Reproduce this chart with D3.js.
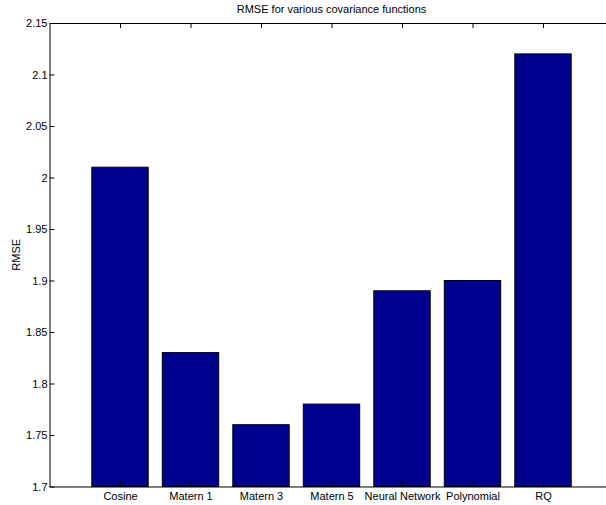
<!DOCTYPE html>
<html>
<head>
<meta charset="utf-8">
<script src="https://cdn.jsdelivr.net/npm/d3@7"></script>
<style>
  html, body { margin: 0; padding: 0; background: #fff; }
  svg { display: block; font-family: "Liberation Sans", Arial, Helvetica, sans-serif; }
</style>
</head>
<body>
<svg id="chart" width="606" height="505"></svg>
<script>
// RMSE per covariance function
const categories = ["Cosine", "Matern 1", "Matern 3", "Matern 5", "Neural Network", "Polynomial", "RQ"];
const rmse = [2.01, 1.83, 1.76, 1.78, 1.89, 1.90, 2.12];
const yTicks = [1.7, 1.75, 1.8, 1.85, 1.9, 1.95, 2, 2.05, 2.1, 2.15];
const titleText = "RMSE for various covariance functions";
const yLabel = "RMSE";

const svg = d3.select("#chart");
const plotLeft = 49.5, plotRight = 613.5, plotTop = 23, plotBottom = 486.5;

// bar positions 1..n inside an axis running from 0 to n+1
const x = d3.scaleLinear().domain([0, categories.length + 1]).range([plotLeft, plotRight]);
const y = d3.scaleLinear().domain([1.7, 2.15]).range([plotBottom, plotTop]);
const step = x(1) - x(0);
const barW = step * 0.8;

const fmt = d => String(+d.toFixed(2));

// bars
svg.append("g")
  .selectAll("rect")
  .data(rmse)
  .join("rect")
  .attr("x", (d, i) => x(i + 1) - barW / 2)
  .attr("y", d => y(d))
  .attr("width", barW)
  .attr("height", d => y(1.7) - y(d))
  .attr("fill", "#00008f")
  .attr("stroke", "#000")
  .attr("stroke-width", 1);

// left axis, ticks pointing inward
const yAxis = svg.append("g")
  .attr("transform", `translate(${plotLeft},0)`)
  .call(d3.axisLeft(y).tickValues(yTicks).tickFormat(fmt).tickSizeInner(-5).tickSizeOuter(0).tickPadding(2));

// bottom axis with category names
const xAxis = svg.append("g")
  .attr("transform", `translate(0,${plotBottom})`)
  .call(d3.axisBottom(x).tickValues(d3.range(1, categories.length + 1))
    .tickFormat(d => categories[d - 1]).tickSizeInner(-5).tickSizeOuter(0).tickPadding(6));

// top axis: ticks only
const topAxis = svg.append("g")
  .attr("transform", `translate(0,${plotTop})`)
  .call(d3.axisTop(x).tickValues(d3.range(1, categories.length + 1))
    .tickFormat("").tickSizeInner(-5).tickSizeOuter(0));

[yAxis, xAxis, topAxis].forEach(g => {
  g.select(".domain").attr("stroke", "#000").attr("stroke-width", 1);
  g.selectAll(".tick line").attr("stroke", "#000");
  g.selectAll("text").attr("font-size", 11).attr("fill", "#000")
    .attr("font-family", "'Liberation Sans', Arial, sans-serif");
});

// title
svg.append("text")
  .attr("x", (plotLeft + plotRight) / 2)
  .attr("y", 13)
  .attr("text-anchor", "middle")
  .attr("font-size", 11)
  .text(titleText);

// y label
svg.append("text")
  .attr("transform", `translate(19.5,${(plotTop + plotBottom) / 2}) rotate(-90)`)
  .attr("text-anchor", "middle")
  .attr("font-size", 11)
  .text(yLabel);
</script>
</body>
</html>
